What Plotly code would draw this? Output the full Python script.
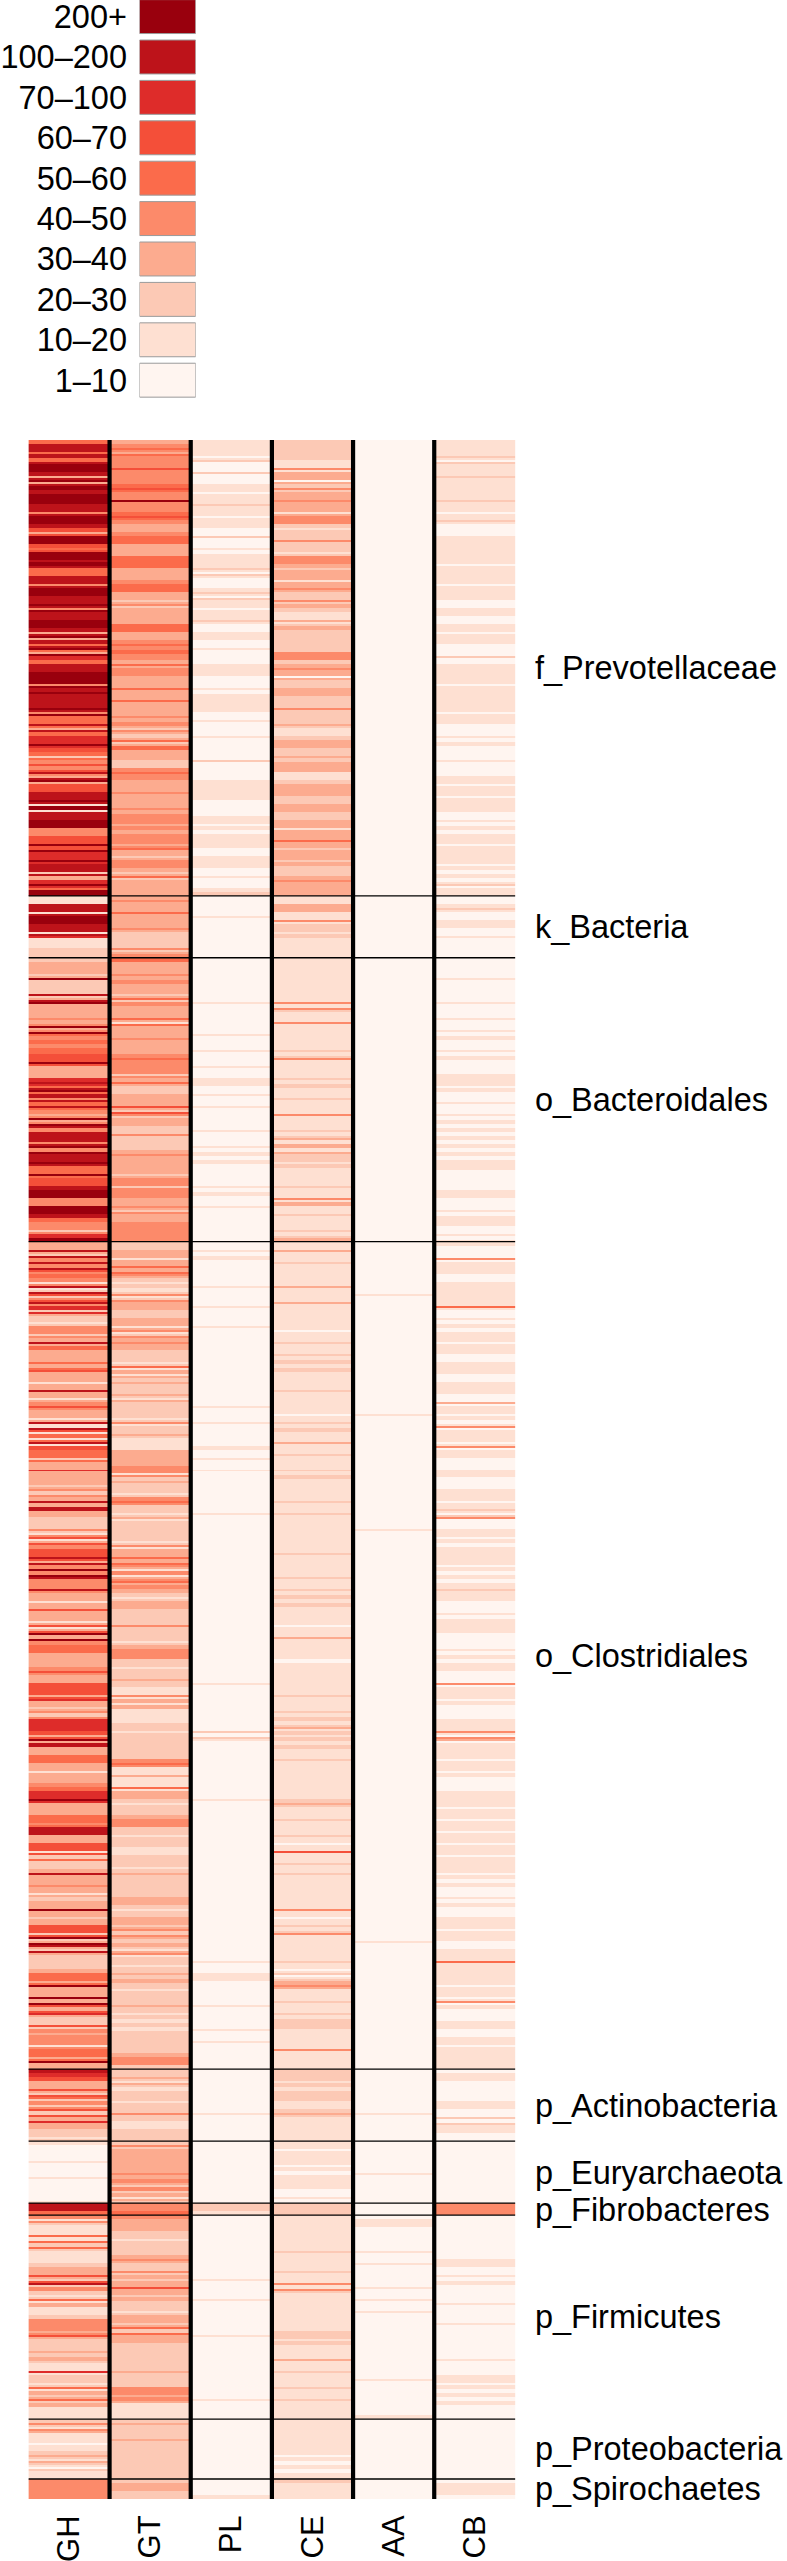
import plotly.graph_objects as go

LEGEND_LABELS = ["200+", "100–200", "70–100", "60–70", "50–60", "40–50", "30–40", "20–30", "10–20", "1–10"]
CLASS_COLORS = ["#fff5f0", "#fee0d2", "#fcc9b5", "#fcab8f", "#fc8a6a", "#fb6b4b", "#f44f39", "#de2c2a", "#bd131a", "#99000d"]
COLUMNS = ["GH", "GT", "PL", "CE", "AA", "CB"]
SECTION_LABELS = ["f_Prevotellaceae", "k_Bacteria", "o_Bacteroidales", "o_Clostridiales", "p_Actinobacteria",
                  "p_Euryarchaeota", "p_Fibrobacteres", "p_Firmicutes", "p_Proteobacteria", "p_Spirochaetes"]
# genomes (rows) in each read-off block, and how many blocks make up each section
BLOCK_ROWS = [110, 118, 31, 142, 104, 105, 105, 100, 36, 31, 6, 102, 30, 10]
SECTION_BLOCKS = [2, 1, 1, 4, 1, 1, 1, 1, 1, 1]

# class per band (0 = 1-10 ... 9 = 200+), block by block
GH = [
 "5885859983989899884998639965998955884998894889983985937",
 "58899948988894558357796524648396688919889944669677988237" "959",
 "1188199881711222",
 "233329222839333439454545669333785984584394848849488955966899449985442799",
 "33824846541826487232144238533353633138314633181651863",
 "5523373332423838322241634668349484483313633163934553",
 "334633666373242777639833553313345779333554883366125228",
 "38334312339323662938232223553933936372264344155393333",
 "8763362542623732212",
 "1000010001000001",
 "885",
 "41211512511123362842153112444362223231172215325311",
 "241311012312011",
 "44444",
]
GT = [
 "345344464445644944564334553335553334553324333355334545444",
 "35443335335333434232535332245433343334344343" "4435324432" + "533",
 "3433533342222434",
 "5333434332543335133343334544423522333624332242223433332442443342334 4".replace(" ", ""),
 "22331353421214233223314234322215312322312222142231",
 "3333441232214522132222214335341435432133222242221 34".replace(" ", ""),
 "221223211431311122122222245113115332122344221221122212 5".replace(" ", ""),
 "23222223321233242323142212323212223212121222223442123 2".replace(" ", ""),
 "223121221224211222",
 "243333334342 4 31 22".replace(" ", ""),
 "445",
 "433322122234224323632322133252332222222322244341111222",
 "232223222222222",
 "23322",
]
PL = [
 "1111020020011011211011002001011120100120110112001100100 01".replace(" ", ""),
 "011100010111100100010000020000111110000110101110011100100" + "12",
 "0000010000000000",
 "00000000000100000001000100010011001001000001000101010000010100100000000",
 "0010100000010000100001000000000000000000010001000001",
 "00100100000000001000000000000000000000000000000000000",
 "00000010000000000020100000000000000100000000000000000",
 "00000000000000000000000100110000001000001001000000",
 "000000000001000000",
 "0000000000000000",
 "221",
 "000000000000000010000100000000100000000000000010000",
 "000000000000000",
 "00001",
]
CE = [
 "2222211433024334331442122422144323313422432113232222 2 4".replace(" ", ""),
 "23430223322242223112332232331123332 2332233133532332322 3".replace(" ", "") + "433",
 "1133114221211111",
 "1111111111141211411111121411112121121114111213131221211112114311211121 3".replace(" ", ""),
 "1131121111131113111111011211212121111211111012121131",
 "12111212111112112111111111211111211212121111011311111",
 "01111111121112121321212112111111111231112111210161121 11".replace(" ", ""),
 "12111111114101214111111210213411121121221111141111",
 "222121221123111111",
 "1101110101110010",
 "222",
 "111111111211112114121111111112212111311211121121111",
 "111111111010101",
 "21111",
]
AA = [
 "0" * 55,
 "0" * 59,
 "0" * 16,
 "0" * 71,
 "0000000000000100000000000000000000000000000100000000",
 "00000000000000000000100000000000000000000000000000000",
 "0" * 53,
 "00000000000000000010000000000000000000000000000000",
 "000000000001000000",
 "0000000010000000",
 "000",
 "011000000100100000100100100000000000000001000000001",
 "0" * 15,
 "00000",
]
CB = [
 "1111201112111112110120001111111011110111001100110110002001 0".replace(" ", ""),
 "01111101111110110001010001000110110111001010110111101 010".replace(" ", "")[:56] + "211",
 "0012001100100000",
 "00000100000100010010100101000111010010010101010101011000001100010110010 10".replace(" ", ""),
 "1000411100111111500101011011001110011100311010411104 0".replace(" ", ""),
 "11000110001110120400110101111010101211000101110000101001",
 "0110004111010001114031111011010001111011011011011 0111".replace(" ", ""),
 "10101001010011101100111511111011041000110011011111",
 "011000001100201 1001".replace(" ", ""),
 "0" * 16,
 "444",
 "000000000001100101000010000100000000100011010101000",
 "0" * 15,
 "01110",
]


def expand(blocks):
    """Each digit read off the picture covers two genomes; a stripe standing out from both of its
    neighbours is one genome thick. Blocks are fitted to their row counts."""
    rows = []
    for text, count in zip(blocks, BLOCK_ROWS):
        d = [int(c) for c in text]
        values = []
        for n, v in enumerate(d):
            a = d[n - 1] if n else v
            b = d[n + 1] if n + 1 < len(d) else v
            thin = (v > a and v > b) or (v < a and v < b)
            values += [v, a] if thin else [v, v]
        rows += (values + [values[-1]] * count)[:count]
    return rows


table = [expand(c) for c in (GH, GT, PL, CE, AA, CB)]
z = [list(r) for r in zip(*table)]
n_rows = len(z)

# section boundaries in rows
bounds = [0]
i = 0
for k in SECTION_BLOCKS:
    bounds.append(bounds[-1] + sum(BLOCK_ROWS[i:i + k]))
    i += k
mids = [(a + b) / 2 - 0.5 for a, b in zip(bounds[:-1], bounds[1:])]

scale = []
for j, c in enumerate(CLASS_COLORS):
    scale += [[j / 10, c], [(j + 1) / 10, c]]

W, H = 787, 2561
fig = go.Figure()
fig.add_trace(go.Heatmap(z=z, x=list(range(6)), y=list(range(n_rows)), zmin=0, zmax=10, colorscale=scale,
                         showscale=False, hoverinfo="skip", xaxis="x", yaxis="y"))
fig.add_trace(go.Bar(y=LEGEND_LABELS, x=[1] * 10, orientation="h", width=0.84,
                     marker=dict(color=CLASS_COLORS[::-1], line=dict(color="#9a9a9a", width=1)),
                     hoverinfo="skip", xaxis="x2", yaxis="y2", showlegend=False))

FONT = dict(family="Liberation Sans", size=32.5, color="black")
XFONT = dict(family="Liberation Sans", size=31, color="black")
fig.update_layout(
    width=W, height=H, margin=dict(l=0, r=0, t=0, b=0), paper_bgcolor="white", plot_bgcolor="white",
    showlegend=False,
    xaxis=dict(domain=[28.4 / W, 515.4 / W], range=[-0.5, 5.5], tickmode="array", tickvals=list(range(6)),
               ticktext=COLUMNS, tickangle=-90, tickfont=XFONT, showgrid=False, zeroline=False, showline=False,
               ticks="outside", ticklen=3, tickcolor="rgba(0,0,0,0)", anchor="y", automargin=False),
    yaxis=dict(domain=[(H - 2499) / H, (H - 440) / H], range=[n_rows - 0.5, -0.5], side="right", anchor="x",
               tickmode="array", tickvals=mids, ticktext=SECTION_LABELS, tickfont=FONT, showgrid=False,
               zeroline=False, showline=False, ticks="outside", ticklen=12, tickcolor="rgba(0,0,0,0)",
               automargin=False),
    xaxis2=dict(domain=[139.5 / W, 195.7 / W], range=[0, 1], visible=False, anchor="y2", automargin=False),
    yaxis2=dict(domain=[(H - 400.4) / H, 1], range=[9.5, -0.41], anchor="x2", type="category", tickfont=FONT,
                showgrid=False, zeroline=False, showline=False, ticks="outside", ticklen=5,
                tickcolor="rgba(0,0,0,0)", automargin=False),
)
for k in range(1, 6):
    fig.add_shape(type="line", xref="x", yref="y", x0=k - 0.5, x1=k - 0.5, y0=-0.5, y1=n_rows - 0.5,
                  line=dict(color="black", width=4.2), layer="above")
for b in bounds[1:-1]:
    fig.add_shape(type="line", xref="x", yref="y", x0=-0.5, x1=5.5, y0=b - 0.5, y1=b - 0.5,
                  line=dict(color="black", width=1.3), layer="above")

fig.write_html("out.html", post_script="document.body.style.margin='0';", config={"displayModeBar": False})
